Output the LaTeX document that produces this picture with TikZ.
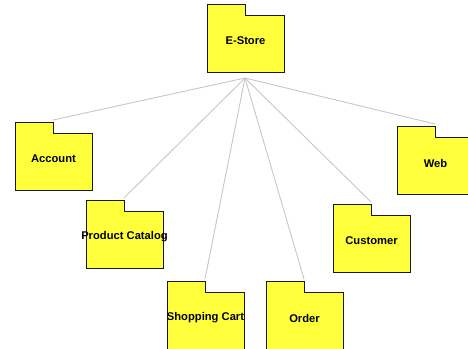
\documentclass[tikz,border=0pt]{standalone}
\usepackage{fontspec}
\setmainfont{Liberation Sans}
\begin{document}
\begin{tikzpicture}[x=0.75pt, y=-0.75pt,
  pkgbody/.style={fill={rgb,255:red,255;green,255;blue,60}, draw=black!90, line width=0.75pt, line join=miter},
  pkglabel/.style={font=\fontsize{8.4}{10}\selectfont\bfseries, inner sep=0pt},
  dep/.style={draw={rgb,255:red,200;green,200;blue,200}, line width=0.7pt},
  pkg/.pic={
    % folder outline: tab on the upper left, body below
    \path[pkgbody] (0,0) -- (38,0) -- (38,11) -- (77,11) -- (77,68) -- (0,68) -- cycle;
    \node[pkglabel] (-label) at (38.5,36) {#1};
    \coordinate (-tab) at (38,-3);
    \coordinate (-hub) at (38,73);
  }]
  \clip (0,0) rectangle (468,349);

  \pic (estore)   at (207,5)   {pkg=E-Store};
  \pic (account)  at (15,123)  {pkg=Account};
  \pic (catalog)  at (86,201)  {pkg=Product Catalog};
  \pic (cart)     at (167,282) {pkg=Shopping Cart};
  \pic (order)    at (266,282) {pkg=Order};
  \pic (customer) at (333,205) {pkg=Customer};
  \pic (web)      at (397,127) {pkg=Web};

  \foreach \p in {account, catalog, cart, order, customer, web}
    \draw[dep] (estore-hub) -- (\p-tab);
\end{tikzpicture}
\end{document}
